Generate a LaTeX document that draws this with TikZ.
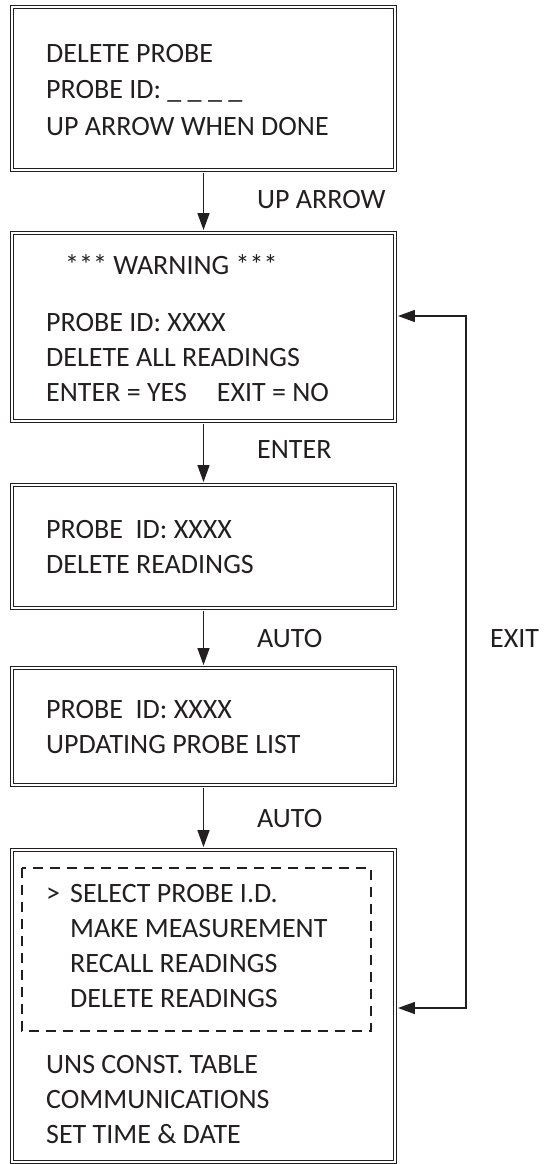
\documentclass[tikz,border=0pt]{standalone}
\usepackage{fontspec}
\setmainfont{Carlito}
\usetikzlibrary{arrows.meta}
\definecolor{ink}{HTML}{231F20}
\begin{document}
\begin{tikzpicture}[x=1pt,y=-1pt,
  >={Triangle[length=17pt,width=12pt]},
  box/.style={draw=ink, line width=1.1pt, double=white, double distance=2.4pt, minimum width=383pt},
  txt/.style={anchor=base west, inner sep=0pt, text=ink, font=\fontsize{28}{34}\selectfont},
  arr/.style={draw=ink, line width=1.5pt, shorten <=2.4pt, shorten >=2.4pt}]
\useasboundingbox (0,0) rectangle (547,1164);
% screens
\node[box, minimum height=163pt] (del) at (203.5,88.5){};
\node[box, minimum height=188pt] (warn) at (203.5,327){};
\node[box, minimum height=123pt] (rdg) at (203.5,546.5){};
\node[box, minimum height=117pt] (upd) at (203.5,726.5){};
\node[box, minimum height=312pt] (menu) at (203.5,1006){};
\draw[ink, line width=1.5pt, dash pattern=on 10pt off 7pt] (22,868) rectangle (371,1031);
% screen texts
\node[txt] (delA) at (46,63){DELETE PROBE};
\node[txt] (delB) at (46,99){PROBE ID: \_ \_ \_ \_};
\node[txt] (delC) at (46,135){UP ARROW WHEN DONE};
\node[txt] (warnA) at (65,274){*** WARNING ***};
\node[txt] (warnB) at (46,331){PROBE ID: XXXX};
\node[txt] (warnC) at (46,366){DELETE ALL READINGS};
\node[txt] (warnD) at (46,401){ENTER = YES\hspace{30pt}EXIT = NO};
\node[txt] (rdgA) at (46,538){PROBE\ \ ID: XXXX};
\node[txt] (rdgB) at (46,573){DELETE READINGS};
\node[txt] (updA) at (46,718){PROBE\ \ ID: XXXX};
\node[txt] (updB) at (46,753){UPDATING PROBE LIST};
\node[txt] (cur) at (46,902){>};
\node[txt] (menuA) at (70,902){SELECT PROBE I.D.};
\node[txt] (menuB) at (70,937){MAKE MEASUREMENT};
\node[txt] (menuC) at (70,972){RECALL READINGS};
\node[txt] (menuD) at (70,1007){DELETE READINGS};
\node[txt] (menuE) at (46,1073){UNS CONST. TABLE};
\node[txt] (menuF) at (46,1108){COMMUNICATIONS};
\node[txt] (menuG) at (46,1143){SET TIME \& DATE};
% keys
\node[txt] (kUp) at (257,208){UP ARROW};
\node[txt] (kEnter) at (257,458){ENTER};
\node[txt] (kAuto1) at (257,647){AUTO};
\node[txt] (kAuto2) at (257,827){AUTO};
\node[txt] (kExit) at (490,647){EXIT};
% flow
\draw[arr, ->] (del) -- (warn);
\draw[arr, ->] (warn) -- (rdg);
\draw[arr, ->] (rdg) -- (upd);
\draw[arr, ->] (upd) -- (menu);
\coordinate (loopT) at (466,316);
\coordinate (loopB) at (466,1008);
\draw[arr, <->] (loopT -| warn.east) -- (loopT) -- (loopB) -- (loopB -| menu.east);
\end{tikzpicture}
\end{document}
